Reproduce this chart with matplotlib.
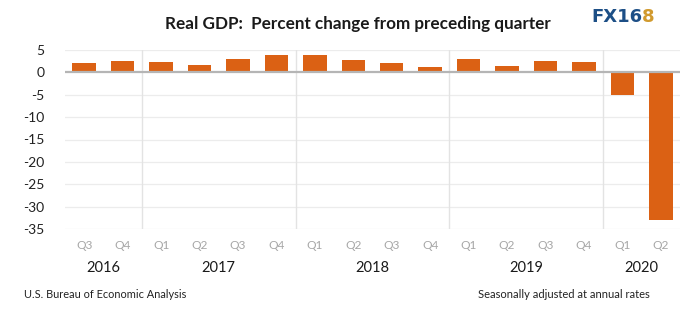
import matplotlib
matplotlib.use("Agg")
import matplotlib.pyplot as plt
from matplotlib.transforms import blended_transform_factory

# Real GDP, percent change from preceding quarter (annual rate)
quarters = ["Q3", "Q4", "Q1", "Q2", "Q3", "Q4", "Q1", "Q2", "Q3", "Q4",
            "Q1", "Q2", "Q3", "Q4", "Q1", "Q2"]
years = ["2016", "2017", "2018", "2019", "2020"]
quarters_per_year = [2, 4, 4, 4, 2]
gdp_change = [2.2, 2.5, 2.3, 1.7, 2.9, 3.9, 3.8, 2.7, 2.1, 1.3,
              2.9, 1.5, 2.6, 2.4, -5.0, -32.9]
y_ticks = [5, 0, -5, -10, -15, -20, -25, -30, -35]

plt.rcParams["font.family"] = ["Lato", "DejaVu Sans"]

fig = plt.figure(figsize=(7.0, 3.26), dpi=100)
ax = fig.add_axes([65 / 700, 1 - 229 / 326, 615 / 700, 179 / 326])

x = list(range(len(gdp_change)))
bar_color = "#db6114"
ax.bar(x, gdp_change, width=0.61, color=bar_color, zorder=3)

ax.set_xlim(-0.5, len(x) - 0.5)
ax.set_ylim(min(y_ticks), max(y_ticks))
ax.set_yticks(y_ticks)
ax.set_yticklabels([str(v) for v in y_ticks])
for v in y_ticks:
    if v != 0:
        ax.axhline(v, color="#ececec", lw=0.9, zorder=1)
ax.axhline(0, color="#b5b5b5", lw=1.6, zorder=4)

# separators between years
start = 0
bounds = []
for n in quarters_per_year:
    bounds.append((start, start + n - 1))
    start += n
for lo, hi in bounds[:-1]:
    ax.axvline(hi + 0.5, color="#e3e3e3", lw=1.0, zorder=1)

for s in ax.spines.values():
    s.set_visible(False)

ax.set_xticks(x)
ax.set_xticklabels(quarters, color="#a6a6a6", fontsize=8.6)
ax.tick_params(axis="x", length=0, pad=8)
ax.tick_params(axis="y", length=0, pad=15, labelsize=10, labelcolor="#222222")

trans = blended_transform_factory(ax.transData, fig.transFigure)
for (lo, hi), yr in zip(bounds, years):
    ax.text((lo + hi) / 2, 1 - 268 / 326, yr, transform=trans,
            ha="center", va="center", fontsize=10.5, color="#1a1a1a")

fig.text(358 / 700, 1 - 24 / 326, "Real GDP:  Percent change from preceding quarter",
         ha="center", va="center", fontsize=12.3, fontweight="bold", color="#1a1a1a")

fig.text(24 / 700, 1 - 295 / 326, "U.S. Bureau of Economic Analysis",
         ha="left", va="center", fontsize=7.9, color="#222222")
fig.text(650 / 700, 1 - 295 / 326, "Seasonally adjusted at annual rates",
         ha="right", va="center", fontsize=8.0, color="#222222")

# FX168 wordmark
logo_y = 1 - 17 / 326
t1 = fig.text(591 / 700, logo_y, "FX16", ha="left", va="center", fontsize=13,
              fontweight="black", color="#1d4f86", family="DejaVu Sans")
fig.canvas.draw()
bb = t1.get_window_extent()
fig.text(bb.x1 / fig.bbox.width, logo_y, "8", ha="left", va="center", fontsize=13,
         fontweight="black", color="#d19a2e", family="DejaVu Sans")

fig.savefig("out.png", dpi=100, facecolor="white")
